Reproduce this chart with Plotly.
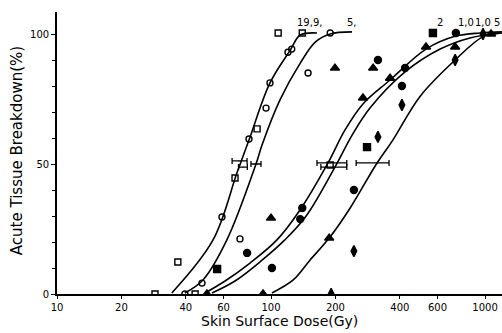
import math
import plotly.graph_objects as go

# ---- fitted curves ----
c1_x = [34.4, 53.6, 69.3, 78.9, 98.9, 123, 137, 164]
c1_y = [0.4, 20.8, 46.5, 59.2, 81.2, 93.8, 99.6, 100.4]
c2_x = [39.6, 48.1, 62.2, 85.1, 90.8, 110, 137, 161, 189, 239]
c2_y = [0.4, 5.4, 20.8, 50.0, 57.3, 74.6, 88.8, 96.9, 100.0, 100.8]
c3_x = [49.2, 61.0, 79.8, 106.6, 136.6, 184.7, 221.8, 269, 360, 530, 731, 948, 1200]
c3_y = [0.4, 5.0, 11.9, 20.8, 32.3, 50.4, 63.1, 73.1, 82.3, 94.2, 99.2, 100.4, 100.8]
c4_x = [53, 67.9, 90.8, 116, 146, 199, 239, 290, 423, 617, 851, 1200]
c4_y = [0.4, 5.0, 13.0, 20.8, 30.0, 48.8, 61.0, 71.5, 85.4, 94.2, 98.5, 100.4]
c5_x = [101, 127, 152, 187, 234, 313, 371, 497, 725, 979, 1175]
c5_y = [0.4, 5.4, 13.0, 21.5, 33.0, 50.4, 59.2, 76.0, 90.0, 99.0, 100.4]

# ---- observed points ----
sq_open_x = [28.7, 44.2, 36.7, 67.9, 86.1, 108, 140, 189]
sq_open_y = [0, 0, 12.3, 44.6, 63.5, 100.4, 100.4, 49.6]
circ_open_x = [39.6, 47.6, 59, 78.9, 94.8, 98.9, 120, 125, 71.6, 149, 189]
circ_open_y = [0, 4.2, 29.6, 59.6, 71.5, 81.2, 93, 94.2, 21.2, 85, 100.4]
sq_fill_x = [56, 281, 571]
sq_fill_y = [9.6, 56.5, 100.4]
circ_fill_x = [77.3, 101, 137, 140, 244, 316, 409, 423, 731]
circ_fill_y = [15.8, 10, 28.8, 33.1, 40, 90, 80, 86.9, 100.4]
tri_x = [50.2, 91.8, 100, 187, 199, 300, 269, 360, 530, 725, 1067]
tri_y = [0, 0, 29.2, 21.5, 86.9, 86.9, 75.4, 83, 95, 95, 100]
dia_x = [191, 244, 316, 409, 725, 979]
dia_y = [0, 16.5, 60.4, 72.7, 90, 100]

# ---- ED50 error bars ----
eb_x = [70.8, 74.0, 85.1, 189, 193, 313]
eb_y = [51.2, 48.8, 50.0, 50.4, 48.8, 50.4]
eb_minus = [5.0, 3.5, 4.5, 25, 22, 63]
eb_plus = [6.5, 3.5, 4.7, 37, 33, 43]

# ---- curve labels ----
lab_text = ["19,9,", "5,", "2", "1,0", "1,0 5"]
lab_x = [151, 239, 617, 815, 1200]
lab_anchor = ["center", "center", "center", "center", "right"]

x_ticks = [10, 20, 40, 60, 100, 200, 400, 600, 1000]
y_ticks = [0, 50, 100]

fig = go.Figure()
for cx, cy in [(c1_x, c1_y), (c2_x, c2_y), (c3_x, c3_y), (c4_x, c4_y), (c5_x, c5_y)]:
    fig.add_trace(go.Scatter(x=cx, y=cy, mode="lines", line=dict(color="black", width=1.6, shape="spline", smoothing=1.0),
                             hoverinfo="skip", showlegend=False))

def pts(x, y, sym, size=7):
    fig.add_trace(go.Scatter(x=x, y=y, mode="markers", showlegend=False,
                             marker=dict(symbol=sym, size=size, color="black",
                                         line=dict(color="black", width=1.4))))

pts(sq_open_x, sq_open_y, "square-open", 6)
pts(circ_open_x, circ_open_y, "circle-open", 6)
pts(sq_fill_x, sq_fill_y, "square", 7)
pts(circ_fill_x, circ_fill_y, "circle", 7)
pts(tri_x, tri_y, "triangle-up", 8)
pts(dia_x, dia_y, "diamond-tall", 8)

fig.add_trace(go.Scatter(x=eb_x, y=eb_y, mode="markers", showlegend=False,
                         marker=dict(size=1, color="black"),
                         error_x=dict(type="data", symmetric=False, array=eb_plus, arrayminus=eb_minus,
                                      color="black", thickness=1.3, width=3)))

for t, x, a in zip(lab_text, lab_x, lab_anchor):
    fig.add_annotation(x=math.log10(x), y=104.3, xref="x", yref="y", text=t, showarrow=False,
                       font=dict(family="DejaVu Sans", size=10, color="black"), xanchor=a, yanchor="middle")

fig.add_annotation(x=-0.09, y=0.51, xref="paper", yref="paper", text="Acute Tissue Breakdown(%)",
                   textangle=-90, showarrow=False, xanchor="center", yanchor="middle",
                   font=dict(family="DejaVu Sans", size=15, color="black"))
fig.add_annotation(x=0.501, y=-0.094, xref="paper", yref="paper", text="Skin Surface Dose(Gy)",
                   showarrow=False, xanchor="center", yanchor="middle",
                   font=dict(family="DejaVu Sans", size=14, color="black"))

fig.update_xaxes(type="log", range=[1, 3.0794], tickvals=x_ticks, ticktext=[str(v) for v in x_ticks],
                 showline=True, linecolor="black", linewidth=1.6, ticks="outside", ticklen=3,
                 tickcolor="black", showgrid=False, zeroline=False,
                 tickfont=dict(family="DejaVu Sans", size=10, color="black"))
fig.update_yaxes(range=[0, 108.46], tickvals=y_ticks, showline=True, linecolor="black", linewidth=1.6,
                 ticks="outside", ticklen=4, tickcolor="black", showgrid=False, zeroline=False,
                 minor=dict(dtick=10, ticks="outside", ticklen=3, tickcolor="black"),
                 tickfont=dict(family="DejaVu Sans", size=10, color="black"))
fig.update_layout(width=502, height=333, margin=dict(l=57, r=0, t=12, b=39),
                  paper_bgcolor="white", plot_bgcolor="white")
fig.write_html("out.html")
